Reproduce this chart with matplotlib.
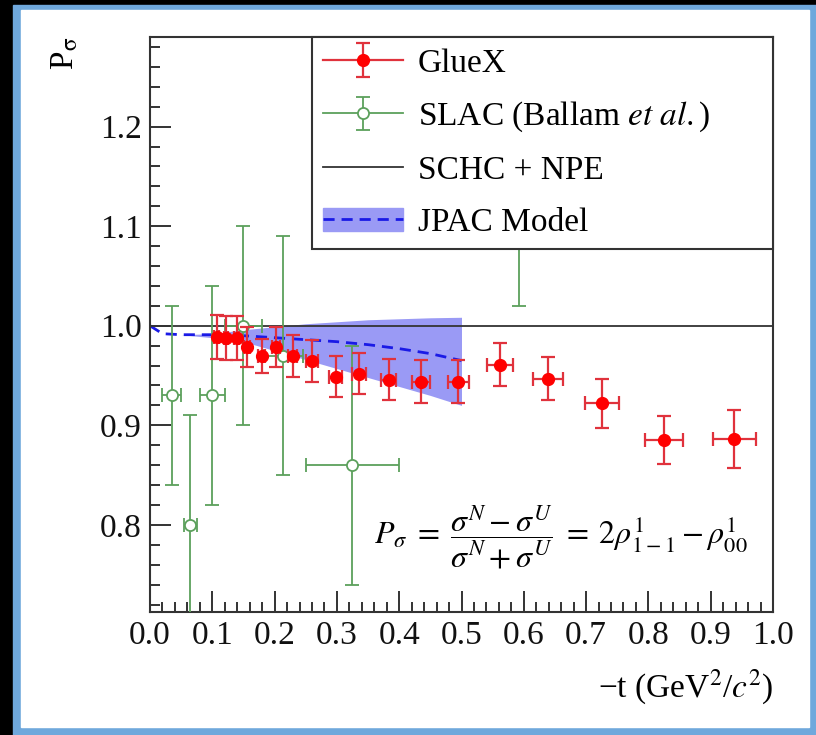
import numpy as np
import matplotlib
matplotlib.use("Agg")
import matplotlib.pyplot as plt
from matplotlib.patches import Rectangle, Patch
from matplotlib.lines import Line2D

plt.rcParams['font.family'] = ['Liberation Serif', 'DejaVu Serif']
plt.rcParams['mathtext.fontset'] = 'stix'

# GlueX measurements
gluex_t = [0.107, 0.122, 0.139, 0.156, 0.179, 0.202, 0.229, 0.260, 0.298,
           0.336, 0.383, 0.435, 0.495, 0.562, 0.639, 0.725, 0.825, 0.938]
gluex_p = [0.989, 0.988, 0.988, 0.979, 0.970, 0.979, 0.970, 0.965, 0.949,
           0.952, 0.946, 0.944, 0.944, 0.961, 0.947, 0.922, 0.885, 0.886]
gluex_perr = [0.022, 0.022, 0.022, 0.020, 0.017, 0.020, 0.021, 0.021, 0.021,
              0.021, 0.021, 0.022, 0.022, 0.022, 0.022, 0.025, 0.024, 0.029]
gluex_terr = [0.004, 0.004, 0.004, 0.005, 0.005, 0.006, 0.007, 0.009, 0.010,
              0.011, 0.0125, 0.015, 0.017, 0.021, 0.024, 0.0275, 0.030, 0.035]

# SLAC (Ballam et al.)
slac_t = [0.035, 0.065, 0.100, 0.150, 0.213, 0.325, 0.592]
slac_p = [0.93, 0.80, 0.93, 1.00, 0.97, 0.86, 1.15]
slac_perr = [0.09, 0.11, 0.11, 0.10, 0.12, 0.12, 0.13]
slac_terr = [0.015, 0.010, 0.020, 0.030, 0.032, 0.075, 0.030]

# JPAC model curve and band
jpac_t = [0.0, 0.02, 0.05, 0.10, 0.15, 0.20, 0.25, 0.30, 0.35, 0.40, 0.45, 0.50]
jpac_p = [1.000, 0.992, 0.991, 0.991, 0.990, 0.988, 0.986, 0.984, 0.981, 0.977, 0.972, 0.965]
jpac_hi = [1.000, 0.992, 0.991, 0.992, 0.996, 0.999, 1.002, 1.004, 1.006, 1.007, 1.008, 1.0085]
jpac_lo = [1.000, 0.992, 0.991, 0.988, 0.984, 0.975, 0.966, 0.957, 0.948, 0.939, 0.930, 0.920]

RED, RED_E = '#ff0000', '#e0323c'
GREEN = '#5ca05c'
BAND, DASH = '#9a9af5', '#1a1ae6'
dash_style = (0, (4, 2.5))

W, H = 816, 735
fig = plt.figure(figsize=(W / 100, H / 100), dpi=100, facecolor='black')

# blue frame around the white panel
fig.patches.append(Rectangle((13 / W, 0), 1 - 13 / W, 1 - 5 / H,
                             transform=fig.transFigure, color='#6fa8dc', zorder=-10))
fig.patches.append(Rectangle((21 / W, 8 / H), (809 - 21) / W, (730 - 13) / H,
                             transform=fig.transFigure, color='white', zorder=-9))

ax = fig.add_axes([150 / W, (H - 612) / H, 623 / W, 575 / H])
ax.set_xlim(0, 1.0)
ax.set_ylim(0.7125, 1.29)

ax.fill_between(jpac_t, jpac_lo, jpac_hi, color=BAND, lw=0, zorder=1)
ax.plot(jpac_t, jpac_p, color=DASH, lw=2, ls=dash_style, zorder=2)
schc = ax.axhline(1.0, color='#333333', lw=1.3, zorder=2)

slac_kw = dict(fmt='o', color=GREEN, mfc='white', mec=GREEN, ms=8, mew=1.3,
               elinewidth=1.3, capsize=5, capthick=1.3)
glue_kw = dict(fmt='o', color=RED, ecolor=RED_E, ms=8.5, elinewidth=1.6,
               capsize=5, capthick=1.6)
ax.errorbar(slac_t, slac_p, yerr=slac_perr, xerr=slac_terr, zorder=3, **slac_kw)
ax.errorbar(gluex_t, gluex_p, yerr=gluex_perr, xerr=gluex_terr, zorder=4, **glue_kw)

ax.set_xticks(np.arange(0, 1.01, 0.1))
ax.set_xticks(np.arange(0, 1.001, 0.02), minor=True)
ax.set_yticks([0.8, 0.9, 1.0, 1.1, 1.2])
ax.set_yticks(np.arange(0.72, 1.29, 0.02), minor=True)
ax.set_xticklabels([f'{v:.1f}' for v in np.arange(0, 1.01, 0.1)])
ax.set_yticklabels(['0.8', '0.9', '1.0', '1.1', '1.2'])
ax.tick_params(which='both', direction='in', top=False, right=False,
               labelsize=24, width=1.2, colors='#111111')
ax.tick_params(which='major', length=15, pad=6)
ax.tick_params(which='minor', length=7)
for s in ax.spines.values():
    s.set_linewidth(1.5)
    s.set_color('#333333')

ax.text(-0.136, 1.0, r'P$_{\mathrm{σ}}$', transform=ax.transAxes, rotation=90,
        ha='center', va='top', fontsize=24)
ax.text(1.0, -0.132, r'−t (GeV$^2$/$c^2$)', transform=ax.transAxes,
        ha='right', va='center', fontsize=24)

ax.text(0.66, 0.13,
        r'$P_\sigma\;=\;\dfrac{\sigma^N - \sigma^U}{\sigma^N + \sigma^U}\;=\;2\rho^1_{1-1} - \rho^1_{00}$',
        transform=ax.transAxes, ha='center', va='center', fontsize=23)

# legend handles: horizontal line plus vertical error bar with caps
glue_h = (Line2D([], [], color=RED_E, lw=1.6),
          ax.errorbar([np.nan], [np.nan], yerr=[0.1], **glue_kw))
slac_h = (Line2D([], [], color=GREEN, lw=1.3),
          ax.errorbar([np.nan], [np.nan], yerr=[0.1], **slac_kw))
jpac_h = (Patch(color=BAND), Line2D([], [], color=DASH, lw=2, ls=dash_style))
leg = ax.legend([glue_h, slac_h, schc, jpac_h],
                ['GlueX', r'SLAC (Ballam $\mathit{et\ al.}$)', 'SCHC + NPE', 'JPAC Model'],
                loc='upper left', bbox_to_anchor=(0.26, 0, 0.74, 1.0), mode='expand',
                borderaxespad=0, fontsize=24, fancybox=False, framealpha=1,
                edgecolor='#333333', handlelength=2.4, handletextpad=0.45,
                labelspacing=0.64, borderpad=0.33)
leg.get_frame().set_linewidth(1.5)
leg.set_zorder(10)

fig.savefig('out.png', dpi=100, facecolor=fig.get_facecolor())
